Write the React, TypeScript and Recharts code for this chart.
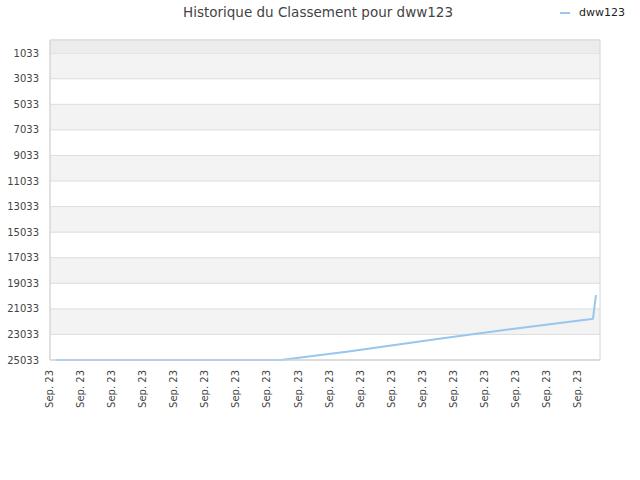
import React from 'react';
import { LineChart, Line, XAxis, YAxis, CartesianGrid, ReferenceArea } from 'recharts';

const days = [0, 152, 199, 259, 307, 362, 363, 364, 365];
const ranks = [25033, 25033, 24353, 23376, 22633, 21828, 21800, 20812, 19950];

const tickDays = [0, 21, 42, 63, 84, 105, 126, 147, 168, 189, 210, 231, 252, 273, 294, 315, 336, 357];
const tickLabels = [
  'Sep. 23', 'Sep. 23', 'Sep. 23', 'Sep. 23', 'Sep. 23', 'Sep. 23',
  'Sep. 23', 'Sep. 23', 'Sep. 23', 'Sep. 23', 'Sep. 23', 'Sep. 23',
  'Sep. 23', 'Sep. 23', 'Sep. 23', 'Sep. 23', 'Sep. 23', 'Sep. 23',
];
const xDomain = [-4, 367.7];
const yTicks = [1033, 3033, 5033, 7033, 9033, 11033, 13033, 15033, 17033, 19033, 21033, 23033, 25033];
const yDomain = [1, 25033];
const topBand = [1, 1033];

const seriesName = 'dww123';
const title = 'Historique du Classement pour dww123';

const data = days.map((d, i) => ({ day: d, rank: ranks[i] }));

const FONT = '"DejaVu Sans", sans-serif';
const LINE_COLOR = '#99c5f2';

const RotTick = (props: any) => {
  const { x, y, payload } = props;
  const idx = tickDays.indexOf(payload.value);
  const label = idx >= 0 ? tickLabels[idx] : '';
  return (
    <g transform={`translate(${x},${y})`}>
      <text
        x={-10}
        y={-3}
        textAnchor="end"
        transform="rotate(-90)"
        fill="#444"
        fontSize={10}
        fontFamily={FONT}
      >
        {label}
      </text>
    </g>
  );
};

export default function App() {
  return (
    <div style={{ position: 'absolute', left: 0, top: 0, width: 640, height: 480, background: '#fff' }}>
      <LineChart width={640} height={480} data={data} margin={{ top: 40, right: 40, bottom: 0, left: 0 }}>
        <CartesianGrid
          vertical={false}
          stroke="#dddddd"
          horizontalFill={['#ffffff', '#f3f3f3']}
          fillOpacity={1}
        />
        <ReferenceArea y1={topBand[0]} y2={topBand[1]} fill="#ececec" fillOpacity={1} stroke="none" />
        <XAxis
          type="number"
          dataKey="day"
          domain={xDomain}
          allowDataOverflow
          ticks={tickDays}
          interval={0}
          height={120}
          tickSize={0}
          tickMargin={0}
          tickLine={false}
          axisLine={{ stroke: '#d6d6d6' }}
          tick={<RotTick />}
        />
        <YAxis
          type="number"
          domain={yDomain}
          reversed
          ticks={yTicks}
          interval={0}
          width={50}
          tickSize={0}
          tickMargin={11}
          tickLine={false}
          axisLine={{ stroke: '#d6d6d6' }}
          tick={{ fill: '#444', fontSize: 10, fontFamily: FONT }}
        />
        <ReferenceArea y1={yDomain[0]} y2={yDomain[1]} fill="none" stroke="#d6d6d6" strokeWidth={1} />
        <Line
          type="linear"
          dataKey="rank"
          name={seriesName}
          stroke={LINE_COLOR}
          strokeWidth={2}
          dot={false}
          activeDot={false}
          isAnimationActive={false}
        />
      </LineChart>
      <div
        style={{
          position: 'absolute',
          left: 0,
          top: 3,
          width: 636,
          textAlign: 'center',
          fontFamily: FONT,
          fontSize: 13.5,
          color: '#444',
          lineHeight: '18px',
        }}
      >
        {title}
      </div>
      <div style={{ position: 'absolute', left: 560, top: 12, width: 10, height: 2, background: LINE_COLOR }} />
      <div
        style={{
          position: 'absolute',
          left: 579,
          top: 5,
          fontFamily: FONT,
          fontSize: 11,
          color: '#222',
          lineHeight: '16px',
        }}
      >
        {seriesName}
      </div>
    </div>
  );
}
